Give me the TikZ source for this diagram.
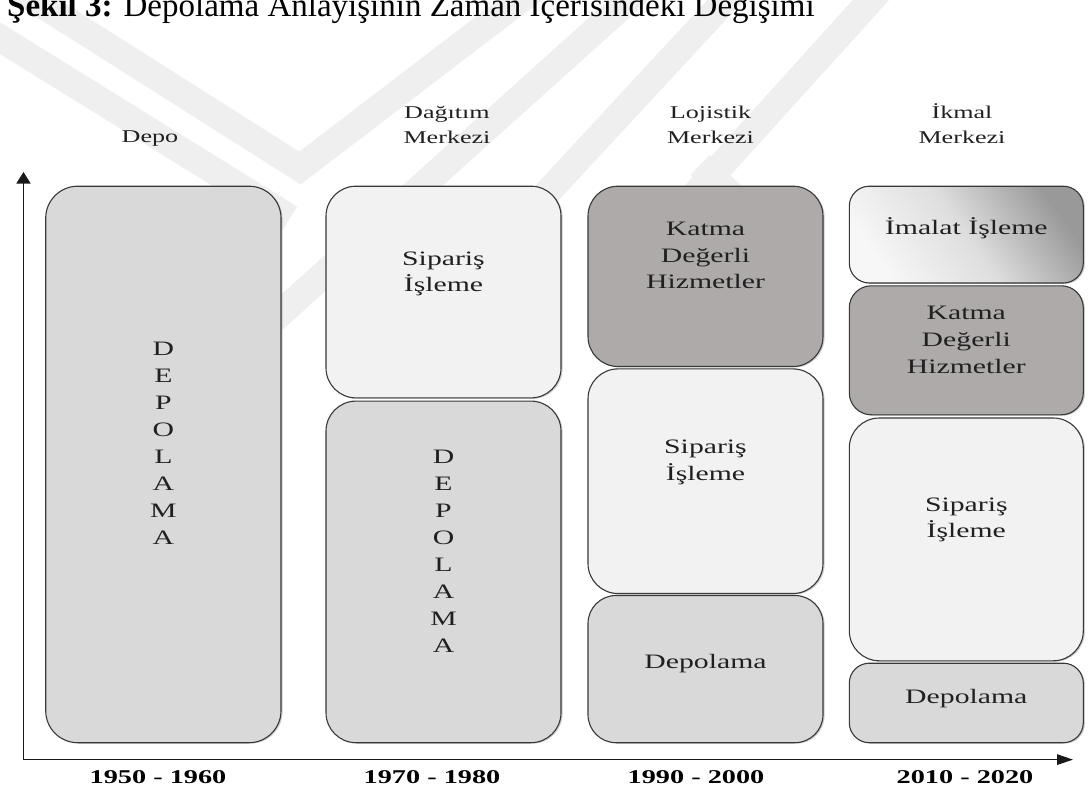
\documentclass[tikz,border=0pt]{standalone}
\usepackage{fontspec}
\setmainfont{Liberation Serif}[FakeStretch=1.45]
\newfontfamily\titlefont{Liberation Serif}
\usetikzlibrary{arrows.meta,shadows}
\definecolor{katma}{RGB}{174,170,170}
\definecolor{txt}{RGB}{32,32,32}
\definecolor{wmark}{RGB}{239,239,239}
\newcommand\stack[1]{\begin{tabular}{@{}c@{}}#1\end{tabular}}

\begin{document}
\begin{tikzpicture}[x=1pt,y=-1pt,
  box/.style={draw=black!78, line width=1.1pt, rounded corners=#1, inner sep=0pt, outer sep=0pt,
    drop shadow={shadow xshift=1.6pt, shadow yshift=-0.9pt, opacity=0.4}},
  box/.default=30pt,
  light/.style={fill=black!5},
  mid/.style={fill=black!15},
  dark/.style={fill=katma},
  lbl/.style={inner sep=0pt, text=txt, font=\fontsize{20.5}{26.7}\selectfont},
  vlbl/.style={inner sep=0pt, text=txt, font=\fontsize{20.5}{27}\selectfont},
  head/.style={inner sep=0pt, text=txt, font=\fontsize{18}{25}\selectfont},
  year/.style={inner sep=0pt, text=black, font=\fontsize{19.5}{24}\selectfont\bfseries},
  band/.style={draw=wmark, line width=27pt, line join=miter},
  axis/.style={draw=black!90, line width=1.6pt}]

\useasboundingbox (0,0) rectangle (1088,792);
\clip (0,0) rectangle (1088,792);

% faint chevron watermark in the background
\path[band] (19,-10) -- (300,168) -- (533,-10);
\path[band] (-10,32) -- (290,218);
\path[band] (262,330) -- (640,-10);
\path[band] (420,330) -- (735,-10);
\path[band] (880,-10) -- (690,200);
\path[band] (700,165) -- (800,260);

% title
\node[anchor=base west, inner sep=0pt, text=black, font=\titlefont\fontsize{33}{38}\selectfont]
  (title) at (7,17) {\textbf{Şekil 3:} Depolama Anlayışının Zaman İçerisindeki Değişimi};

% column headings
\node[head] (h1) at (150,138) {\stack{Depo}};
\node[head] (h2) at (447,125.5) {\stack{Dağıtım\\Merkezi}};
\node[head] (h3) at (710.5,125.5) {\stack{Lojistik\\Merkezi}};
\node[head] (h4) at (962,125.5) {\stack{İkmal\\Merkezi}};

% axes
\coordinate (o) at (23.5,759.6);
\coordinate (ytop) at (23.5,172);
\coordinate (xend) at (1073,759.6);
\draw[axis, {Triangle[length=11.5pt,width=14pt]}-{Triangle[length=16pt,width=10.5pt]}]
  (ytop) -- (o) -- (xend);

% 1950 - 1960
\node[box=32pt, mid, minimum width=235.3pt, minimum height=556.5pt] (c1) at (163.35,464.45) {};
\node[vlbl] (t1) at (163.35,445) {\stack{D\\E\\P\\O\\L\\A\\M\\A}};

% 1970 - 1980
\node[box, light, minimum width=235pt, minimum height=211.7pt] (c2a) at (443.5,292.05) {};
\node[box, mid, minimum width=235pt, minimum height=341.6pt] (c2b) at (443.5,571.9) {};
\node[lbl] (t2a) at (443.5,273.3) {\stack{Sipariş\\İşleme}};
\node[vlbl] (t2b) at (443.5,552.6) {\stack{D\\E\\P\\O\\L\\A\\M\\A}};

% 1990 - 2000
\node[box, dark, minimum width=235pt, minimum height=180.3pt] (c3a) at (705.5,276.35) {};
\node[box, light, minimum width=235pt, minimum height=224.6pt] (c3b) at (705.5,481.2) {};
\node[box=28pt, mid, minimum width=235pt, minimum height=147.2pt] (c3c) at (705.5,669.1) {};
\node[lbl] (t3a) at (705.5,256.8) {\stack{Katma\\Değerli\\Hizmetler}};
\node[lbl] (t3b) at (705.5,462) {\stack{Sipariş\\İşleme}};
\node[lbl] (t3c) at (705.5,662.7) {\stack{Depolama}};

% 2010 - 2020
\node[box=20pt, top color=black!40, bottom color=black!3, middle color=black!13, shading angle=-55,
  minimum width=234pt, minimum height=96.8pt] (c4a) at (966.3,234.6) {};
\node[box=22pt, dark, minimum width=234pt, minimum height=129pt] (c4b) at (966.3,350.3) {};
\node[box, light, minimum width=234pt, minimum height=242.8pt] (c4c) at (966.3,539.4) {};
\node[box=20pt, mid, minimum width=234pt, minimum height=79.5pt] (c4d) at (966.3,702.95) {};
\node[lbl] (t4a) at (966.3,229.2) {\stack{İmalat İşleme}};
\node[lbl] (t4b) at (966.3,341.3) {\stack{Katma\\Değerli\\Hizmetler}};
\node[lbl] (t4c) at (966.3,519.3) {\stack{Sipariş\\İşleme}};
\node[lbl] (t4d) at (966.3,697.8) {\stack{Depolama}};

% periods on the time axis
\node[year] (y1) at (158,778.5) {\stack{1950 - 1960}};
\node[year] (y2) at (432,778.5) {\stack{1970 - 1980}};
\node[year] (y3) at (696,778.5) {\stack{1990 - 2000}};
\node[year] (y4) at (965,778.5) {\stack{2010 - 2020}};
\end{tikzpicture}
\end{document}
